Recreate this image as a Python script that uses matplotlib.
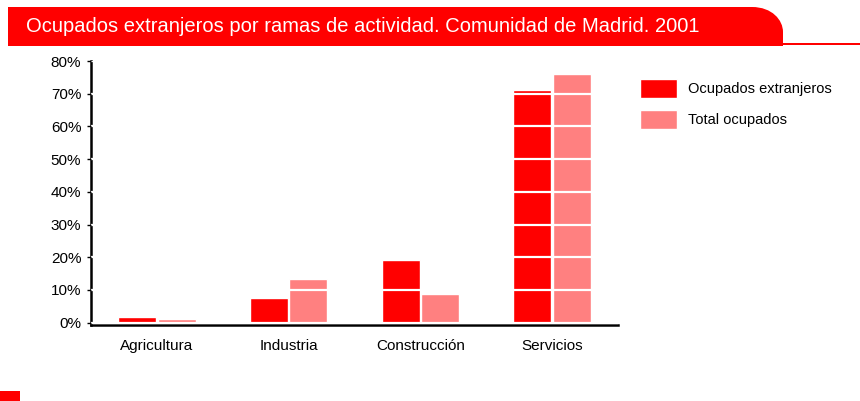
import numpy as np
import matplotlib.pyplot as plt
from matplotlib.path import Path
from matplotlib.patches import PathPatch, Rectangle

categorias = ["Agricultura", "Industria", "Construcción", "Servicios"]
extranjeros = [1.7, 7.7, 19.3, 71.0]
total = [1.0, 13.3, 8.9, 76.0]
ticks = [0, 10, 20, 30, 40, 50, 60, 70, 80]

ROJO = "#FF0000"
ROSA = "#FF8080"
plt.rcParams['font.family'] = ["Liberation Sans", "DejaVu Sans"]

W, H = 860, 401
fig = plt.figure(figsize=(8.6, 4.01), dpi=100)

def px(x, y):
    return (x / W, 1 - y / H)

# banner del titulo con la esquina superior derecha redondeada
verts = [px(8, 46), px(8, 7), px(752, 7), px(772, 7), px(783, 20), px(783, 32), px(783, 46), px(8, 46)]
codes = [Path.MOVETO, Path.LINETO, Path.LINETO, Path.CURVE4, Path.CURVE4, Path.CURVE4, Path.LINETO, Path.CLOSEPOLY]
fig.patches.append(PathPatch(Path(verts, codes), transform=fig.transFigure, facecolor=ROJO, edgecolor="none"))
fig.patches.append(Rectangle(px(783, 45), 77 / W, 2 / H, transform=fig.transFigure, facecolor=ROJO, edgecolor="none"))
fig.text(*px(26, 27), "Ocupados extranjeros por ramas de actividad. Comunidad de Madrid. 2001",
         color="white", fontsize=14.5, va="center", ha="left")
fig.patches.append(Rectangle(px(0, 401), 20 / W, 10 / H, transform=fig.transFigure, facecolor=ROJO, edgecolor="none"))

ax = fig.add_axes([91 / W, 76 / H, 527 / W, 264 / H])
x = np.arange(len(categorias))
w = 0.29
b1 = ax.bar(x - w / 2 - 0.005, extranjeros, w, color=ROJO, edgecolor="white", linewidth=1, label="Ocupados extranjeros")
b2 = ax.bar(x + w / 2 + 0.005, total, w, color=ROSA, edgecolor="white", linewidth=1, label="Total ocupados")

ax.set_xlim(-0.5, 3.5)
ax.set_ylim(-0.7, 80)
ax.set_yticks(ticks)
ax.set_yticklabels([f"{t}%" for t in ticks], fontsize=11)
ax.set_xticks(x)
ax.set_xticklabels(categorias, fontsize=11)
ax.tick_params(axis="x", length=0, pad=10)
ax.tick_params(axis="y", length=3, width=1, pad=4)
ax.set_axisbelow(False)
ax.yaxis.grid(True, color="white", linewidth=1.6)
for s in ["top", "right"]:
    ax.spines[s].set_visible(False)
ax.spines["left"].set_linewidth(1.8)
ax.spines["bottom"].set_linewidth(1.8)

fig.legend(handles=[b1, b2], loc="upper left", bbox_to_anchor=px(627, 66), frameon=False,
           fontsize=10.5, handlelength=2.5, handleheight=1.6, handletextpad=0.8, labelspacing=0.85)

fig.savefig("out.png", dpi=100)
